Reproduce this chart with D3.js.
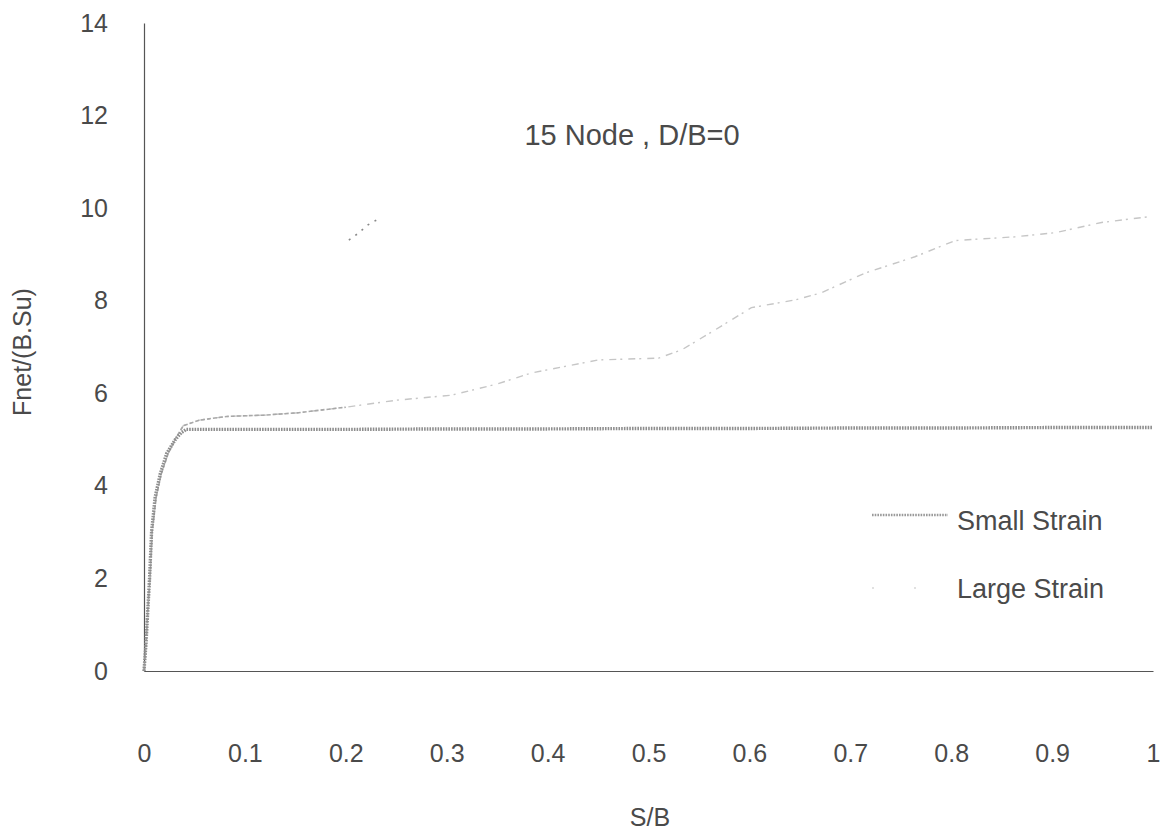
<!DOCTYPE html>
<html>
<head>
<meta charset="utf-8">
<script src="https://cdn.jsdelivr.net/npm/d3@7/dist/d3.min.js"></script>
<style>
  html, body { margin: 0; padding: 0; background: #fff; }
  svg { display: block; }
  text { font-family: "Liberation Sans", Arial, Helvetica, sans-serif; fill: #4a4a4a; }
</style>
</head>
<body>
<svg id="chart" width="1172" height="835"></svg>
<script>
// Load–settlement results, 15-node elements, D/B = 0
const xTicks = [0, 0.1, 0.2, 0.3, 0.4, 0.5, 0.6, 0.7, 0.8, 0.9, 1];
const yTicks = [0, 2, 4, 6, 8, 10, 12, 14];

const smallStrainX = [0, 0.002, 0.004, 0.0055, 0.0075, 0.011, 0.016, 0.0225, 0.031, 0.037, 0.042, 0.1, 0.2, 0.3, 0.4, 0.5, 0.6, 0.7, 0.8, 0.9, 1.0];
const smallStrainY = [0, 0.6, 1.4, 2.0, 3.0, 3.75, 4.25, 4.7, 5.0, 5.15, 5.22, 5.22, 5.22, 5.23, 5.23, 5.24, 5.24, 5.25, 5.25, 5.26, 5.26];

const largeStrainX = [0, 0.002, 0.004, 0.006, 0.008, 0.012, 0.017, 0.024, 0.032, 0.039, 0.055, 0.082, 0.121, 0.153, 0.2, 0.25, 0.305, 0.35, 0.384, 0.45, 0.51, 0.533, 0.566, 0.602, 0.646, 0.671, 0.715, 0.764, 0.804, 0.863, 0.903, 0.949, 0.998];
const largeStrainY = [0, 0.6, 1.4, 2.0, 3.0, 3.75, 4.25, 4.7, 5.05, 5.3, 5.42, 5.5, 5.53, 5.58, 5.7, 5.85, 5.96, 6.2, 6.44, 6.72, 6.76, 6.94, 7.37, 7.85, 8.02, 8.17, 8.6, 8.95, 9.3, 9.38, 9.47, 9.69, 9.82];

// short detached trace of the large-strain series
const strayX = [0.203, 0.212, 0.222, 0.231];
const strayY = [9.31, 9.45, 9.64, 9.75];

const seriesNames = ["Small Strain", "Large Strain"];

const svg = d3.select("#chart");
const x = d3.scaleLinear().domain([0, 1]).range([144, 1153]);
const y = d3.scaleLinear().domain([0, 14]).range([671, 23]);

const toPts = (xs, ys) => xs.map((v, i) => [v, ys[i]]);
const line = d3.line().x(d => x(d[0])).y(d => y(d[1]));

// axes
const gx = svg.append("g")
  .attr("transform", `translate(0,${y(0)})`)
  .call(d3.axisBottom(x).tickValues(xTicks).tickFormat(d => String(d)).tickSize(0).tickSizeOuter(0).tickPadding(73));
const gy = svg.append("g")
  .attr("transform", `translate(${x(0)},0)`)
  .call(d3.axisLeft(y).tickValues(yTicks).tickSize(0).tickSizeOuter(0).tickPadding(36));

[gx, gy].forEach(g => {
  g.select(".domain").attr("stroke", "#555").attr("stroke-width", 1.2);
  g.selectAll("text").attr("font-size", 25).attr("fill", "#4a4a4a")
    .style("font-family", '"Liberation Sans", Arial, sans-serif');
});

// large-strain curve: faint, broken trace (a little stronger near the knee)
const largePts = toPts(largeStrainX, largeStrainY);
svg.append("path")
  .datum(largePts)
  .attr("d", line)
  .attr("fill", "none")
  .attr("stroke", "#c6c6c6")
  .attr("stroke-width", 1.4)
  .attr("stroke-dasharray", "7 4 2 6");
svg.append("path")
  .datum(largePts.filter(d => d[0] <= 0.2))
  .attr("d", line)
  .attr("fill", "none")
  .attr("stroke", "#a8a8a8")
  .attr("stroke-width", 1.6)
  .attr("stroke-dasharray", "4 2");

svg.append("path")
  .datum(toPts(strayX, strayY))
  .attr("d", line)
  .attr("fill", "none")
  .attr("stroke", "#888")
  .attr("stroke-width", 1.6)
  .attr("stroke-dasharray", "2 6");

// small-strain curve: dense hatched marker trace
svg.append("path")
  .datum(toPts(smallStrainX, smallStrainY))
  .attr("d", line)
  .attr("fill", "none")
  .attr("stroke", "#8e8e8e")
  .attr("stroke-width", 3.4)
  .attr("stroke-dasharray", "1.6 1.1");

// title
svg.append("text")
  .attr("x", 632).attr("y", 145)
  .attr("text-anchor", "middle")
  .attr("font-size", 29)
  .text("15 Node , D/B=0");

// axis titles
svg.append("text")
  .attr("x", 650).attr("y", 826)
  .attr("text-anchor", "middle")
  .attr("font-size", 25)
  .text("S/B");

svg.append("text")
  .attr("transform", "translate(31,352) rotate(-90)")
  .attr("text-anchor", "middle")
  .attr("font-size", 25)
  .text("Fnet/(B.Su)");

// legend
const legend = svg.append("g");
const legendRows = [
  { name: seriesNames[0], ly: 515, ty: 530, stroke: "#9a9a9a", w: 2.4, dash: "1.6 1.1" },
  { name: seriesNames[1], ly: 588, ty: 598, stroke: "#d8d8d8", w: 1.4, dash: "2 40" }
];
legendRows.forEach(r => {
  legend.append("line")
    .attr("x1", 872).attr("x2", 948)
    .attr("y1", r.ly).attr("y2", r.ly)
    .attr("stroke", r.stroke).attr("stroke-width", r.w)
    .attr("stroke-dasharray", r.dash);
  legend.append("text")
    .attr("x", 957).attr("y", r.ty)
    .attr("font-size", 27)
    .text(r.name);
});
</script>
</body>
</html>
